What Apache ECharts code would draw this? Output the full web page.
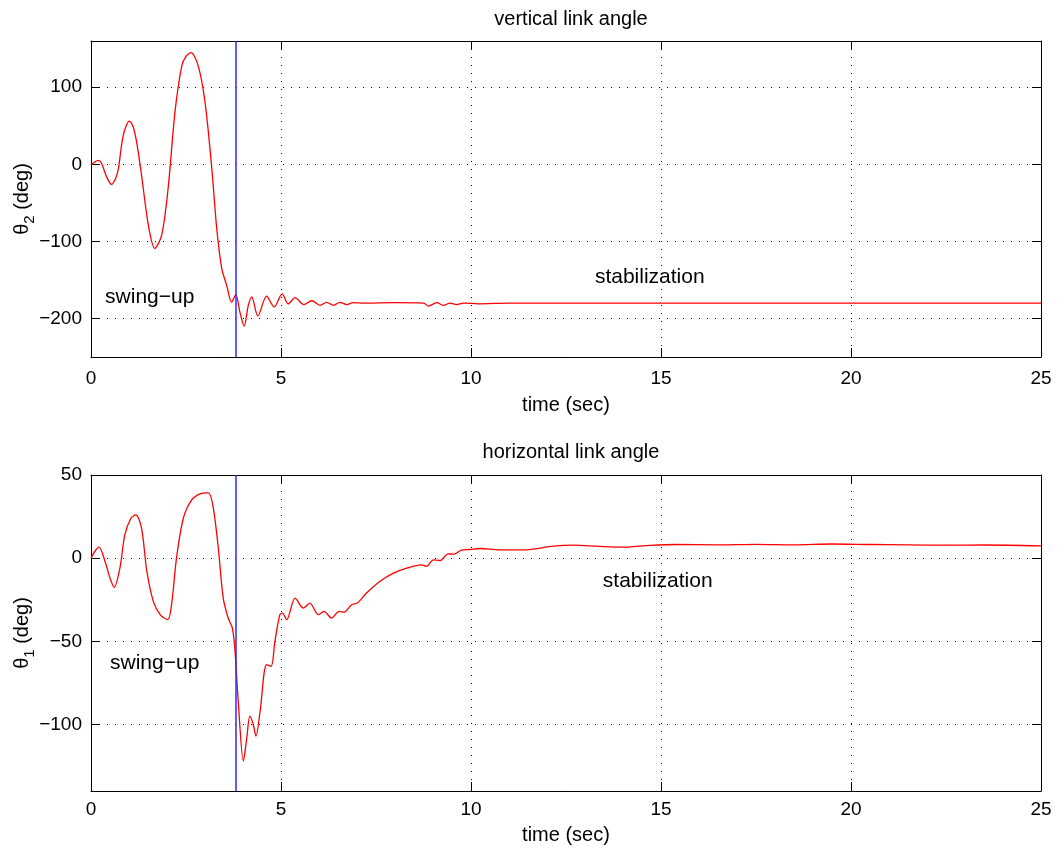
<!DOCTYPE html>
<html>
<head>
<meta charset="utf-8">
<script src="https://cdn.jsdelivr.net/npm/echarts@6/dist/echarts.min.js"></script>
<style>html,body{margin:0;padding:0;background:#fff}#c{width:1058px;height:848px}</style>
</head>
<body>
<div id="c"></div>
<script>
// ---- data ----
const t2 = [0, 0.1, 0.19, 0.28, 0.4, 0.54, 0.65, 0.72, 0.85, 1.01, 1.1, 1.2, 1.33, 1.51, 1.68, 1.86, 2.03, 2.21, 2.39, 2.5, 2.63, 2.82, 3.0, 3.18, 3.31, 3.44, 3.57, 3.70, 3.81, 3.92, 4.03, 4.14, 4.23, 4.39, 4.62, 4.82, 5.03, 5.19, 5.37, 5.6, 5.81, 6.03, 6.2, 6.38, 6.55, 6.73, 6.9, 7.2, 8.0, 8.75, 8.88, 9.1, 9.27, 9.45, 9.62, 9.8, 10.2, 11, 12, 14, 16, 18, 20, 22, 25];
const theta2 = [-1, 3, 5, 1, -15, -26, -18, -6, 38, 56, 50, 29, -14, -79, -109, -92, -31, 68, 128, 140, 145, 128, 81, -6, -84, -135, -157, -179, -169, -192, -210, -183, -172, -197, -171, -185, -168, -181, -173, -182, -177, -183, -179, -183, -179, -182, -179.5, -180, -179.5, -180, -184, -179.5, -183, -180, -182, -180, -181, -180, -180, -180, -180, -180, -180, -180, -180];

const t1 = [0, 0.1, 0.21, 0.37, 0.5, 0.61, 0.76, 0.89, 1.05, 1.18, 1.33, 1.47, 1.64, 1.82, 2.02, 2.12, 2.25, 2.43, 2.65, 2.87, 3.09, 3.22, 3.35, 3.48, 3.61, 3.72, 3.79, 3.88, 4.01, 4.1, 4.18, 4.27, 4.34, 4.45, 4.62, 4.74, 4.84, 4.97, 5.04, 5.15, 5.37, 5.59, 5.76, 5.98, 6.13, 6.33, 6.53, 6.66, 6.86, 7.01, 7.25, 7.6, 7.96, 8.31, 8.7, 8.83, 9.01, 9.18, 9.4, 9.55, 9.75, 9.97, 10.24, 10.76, 11.37, 12.17, 12.7, 13.31, 14.0, 14.6, 15.4, 16.5, 17.5, 18.5, 19.5, 20.5, 21.5, 22.5, 23.5, 25];
const theta1 = [0, 4, 6.6, -2, -12, -17.5, -6, 14, 24, 26, 18, -8, -26, -34, -37, -28, 0, 24, 35, 38.7, 39.3, 30, 6, -24, -36, -42, -56, -88, -122, -108, -95, -100, -107, -92, -64, -65, -50, -34, -33, -37, -24, -30, -27, -34, -32, -36, -32, -32.5, -28, -27, -21, -14, -9, -6, -4, -5, -1, -1.5, 2.6, 2.4, 4.8, 5.2, 5.8, 5, 5, 7.2, 7.8, 7.2, 6.6, 7.5, 8.2, 8, 8.3, 8, 8.5, 8.2, 8, 7.8, 7.9, 7.4];

const switchTime = 3.8;
const yTicksTop = [-200, -100, 0, 100];
const yTicksBottom = [-100, -50, 0, 50];
const titles = ['vertical link angle', 'horizontal link angle'];
const xName = 'time (sec)';
const annotTop = [{text: 'swing\u2212up', t: 0.37, v: -172}, {text: 'stabilization', t: 13.26, v: -146}];
const annotBottom = [{text: 'swing\u2212up', t: 0.5, v: -63}, {text: 'stabilization', t: 13.47, v: -14}];

// ---- chart ----
const FONT = 'Liberation Sans, Arial, Helvetica, sans-serif';
const chart = echarts.init(document.getElementById('c'), null, {renderer: 'canvas'});
const fmt = v => String(v).replace('-', '\u2212');

function xAxes(gi, margin, gap) {
  const base = {
    type: 'value', gridIndex: gi, min: 0, max: 25, interval: 5,
    axisLine: {show: true, onZero: false, lineStyle: {color: '#000', width: 1}},
    axisTick: {show: true, inside: true, length: 9, lineStyle: {color: '#000'}}
  };
  return [
    Object.assign({}, base, {
      position: 'bottom',
      axisLabel: {color: '#000', fontSize: 19, fontFamily: FONT, margin: margin, formatter: fmt},
      splitLine: {show: true, lineStyle: {color: '#000', type: [1, 7], width: 1}},
      name: xName, nameLocation: 'middle', nameGap: gap,
      nameTextStyle: {color: '#000', fontSize: 20, fontFamily: FONT}
    }),
    Object.assign({}, base, {position: 'top', axisLabel: {show: false}, splitLine: {show: false}})
  ];
}
function yAxes(gi, min, max, ticks, sub) {
  const base = {
    type: 'value', gridIndex: gi, min: min, max: max,
    axisLine: {show: true, onZero: false, lineStyle: {color: '#000', width: 1}},
    axisTick: {show: true, inside: true, length: 9, customValues: ticks, lineStyle: {color: '#000'}}
  };
  return [
    Object.assign({}, base, {
      position: 'left',
      axisLabel: {color: '#000', fontSize: 19, fontFamily: FONT, margin: 9, customValues: ticks, formatter: fmt},
      splitLine: {show: true, lineStyle: {color: '#000', type: [1, 7], width: 1}},
      name: '{a|\u03b8}{s|' + sub + '}{a| (deg)}', nameLocation: 'middle', nameGap: 54, nameRotate: 90,
      nameMoveOverlap: false,
      nameTextStyle: {color: '#000', fontFamily: FONT, rich: {
        a: {fontSize: 20, fontFamily: FONT, color: '#000', lineHeight: 30, verticalAlign: 'middle'},
        s: {fontSize: 15, fontFamily: FONT, color: '#000', lineHeight: 30, verticalAlign: 'bottom', padding: [12, 0, 0, 0]}
      }}
    }),
    Object.assign({}, base, {position: 'right', axisLabel: {show: false}, splitLine: {show: false}})
  ];
}

const pairs = (ts, vs) => ts.map((t, i) => [t, vs[i]]);
const vline = {
  silent: true, symbol: ['none', 'none'], label: {show: false},
  lineStyle: {color: '#2a2aff', type: 'solid', width: 1.5},
  data: [{xAxis: switchTime}], animation: false
};

const option = {
  backgroundColor: '#fff',
  animation: false,
  title: [
    {text: titles[0], left: 566, top: 4, textAlign: 'center', textStyle: {color: '#000', fontSize: 20, fontWeight: 'normal', fontFamily: FONT}},
    {text: titles[1], left: 566, top: 437, textAlign: 'center', textStyle: {color: '#000', fontSize: 20, fontWeight: 'normal', fontFamily: FONT}}
  ],
  grid: [
    {left: 91, width: 950, top: 41, height: 316, containLabel: false, outerBoundsMode: 'none'},
    {left: 91, width: 950, top: 475, height: 316, containLabel: false, outerBoundsMode: 'none'}
  ],
  xAxis: [].concat(xAxes(0, 12, 38), xAxes(1, 9, 34)),
  yAxis: [].concat(yAxes(0, -250, 160, yTicksTop, '2'), yAxes(1, -140, 50, yTicksBottom, '1')),
  series: [
    {type: 'line', xAxisIndex: 0, yAxisIndex: 0, data: pairs(t2, theta2), showSymbol: false, smooth: 0.3,
     lineStyle: {color: '#ff0000', width: 1.3}, markLine: vline, z: 3},
    {type: 'line', xAxisIndex: 2, yAxisIndex: 2, data: pairs(t1, theta1), showSymbol: false, smooth: 0.3,
     lineStyle: {color: '#ff0000', width: 1.3}, markLine: vline, z: 3}
  ]
};
chart.setOption(option);

function annotations() {
  const g = [];
  const mk = (p, text) => ({type: 'text', x: p[0], y: p[1], style: {text: text, fill: '#000', fontSize: 21, fontFamily: FONT, verticalAlign: 'middle', align: 'left'}});
  annotTop.forEach(a => g.push(mk(chart.convertToPixel({xAxisIndex: 0, yAxisIndex: 0}, [a.t, a.v]), a.text)));
  annotBottom.forEach(a => g.push(mk(chart.convertToPixel({xAxisIndex: 2, yAxisIndex: 2}, [a.t, a.v]), a.text)));
  chart.setOption({graphic: g});
}
annotations();
</script>
</body>
</html>
